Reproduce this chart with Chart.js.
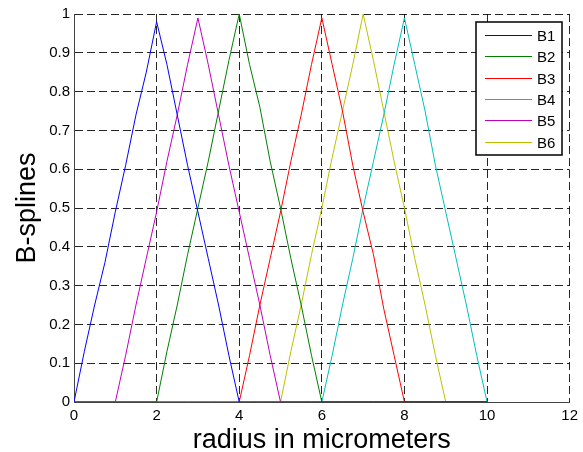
<!DOCTYPE html>
<html>
<head>
<meta charset="utf-8">
<script src="https://cdn.jsdelivr.net/npm/chart.js@4/dist/chart.umd.min.js"></script>
<style>
  html, body { margin: 0; padding: 0; background: #fff; }
  #wrap { width: 583px; height: 452px; position: relative; }
</style>
</head>
<body>
<div id="wrap"><canvas id="chart"></canvas></div>
<script>
// radius samples (micrometers)
const radius = [0, 0.25, 0.5, 0.75, 1, 1.25, 1.5, 1.75, 2, 2.25, 2.5, 2.75, 3, 3.25, 3.5, 3.75, 4,
  4.25, 4.5, 4.75, 5, 5.25, 5.5, 5.75, 6, 6.25, 6.5, 6.75, 7, 7.25, 7.5, 7.75, 8,
  8.25, 8.5, 8.75, 9, 9.25, 9.5, 9.75, 10];

const seriesNames = ['B1', 'B2', 'B3', 'B4', 'B5', 'B6'];
const seriesColors = ['#0000ff', '#008000', '#ff0000', '#00bfbf', '#bf00bf', '#bfbf00'];

const b1 = [0, 0.13, 0.25, 0.36, 0.49, 0.61, 0.74, 0.85, 0.98, 0.87, 0.74, 0.61, 0.49, 0.37, 0.25, 0.12, 0,
  0, 0, 0, 0, 0, 0, 0, 0, 0, 0, 0, 0, 0, 0, 0, 0, 0, 0, 0, 0, 0, 0, 0, 0];
const b2 = [0, 0, 0, 0, 0, 0, 0, 0, 0, 0.13, 0.25, 0.38, 0.50, 0.62, 0.75, 0.88, 1.0,
  0.87, 0.76, 0.62, 0.50, 0.37, 0.25, 0.12, 0, 0, 0, 0, 0, 0, 0, 0, 0, 0, 0, 0, 0, 0, 0, 0, 0];
const b3 = [0, 0, 0, 0, 0, 0, 0, 0, 0, 0, 0, 0, 0, 0, 0, 0, 0,
  0.12, 0.25, 0.37, 0.49, 0.62, 0.74, 0.87, 0.99, 0.87, 0.75, 0.61, 0.49, 0.38, 0.24, 0.12, 0,
  0, 0, 0, 0, 0, 0, 0, 0];
const b4 = [0, 0, 0, 0, 0, 0, 0, 0, 0, 0, 0, 0, 0, 0, 0, 0, 0, 0, 0, 0, 0, 0, 0, 0, 0,
  0.12, 0.25, 0.37, 0.50, 0.62, 0.74, 0.87, 0.99, 0.87, 0.75, 0.61, 0.49, 0.37, 0.25, 0.12, 0];
const b5 = [0, 0, 0, 0, 0, 0.12, 0.25, 0.37, 0.49, 0.62, 0.74, 0.87, 0.99, 0.87, 0.74, 0.61, 0.49,
  0.37, 0.25, 0.12, 0, 0, 0, 0, 0, 0, 0, 0, 0, 0, 0, 0, 0, 0, 0, 0, 0, 0, 0, 0, 0];
const b6 = [0, 0, 0, 0, 0, 0, 0, 0, 0, 0, 0, 0, 0, 0, 0, 0, 0, 0, 0, 0, 0,
  0.13, 0.25, 0.38, 0.50, 0.63, 0.75, 0.87, 1.0, 0.88, 0.75, 0.62, 0.50, 0.37, 0.25, 0.12, 0,
  0, 0, 0, 0];
const seriesValues = [b1, b2, b3, b4, b5, b6];

const xTicks = [0, 2, 4, 6, 8, 10, 12];

// boxed legend drawn inside the plot, top right
const boxLegend = {
  id: 'boxLegend',
  afterDraw(chart) {
    const ctx = chart.ctx;
    const x = 476, y = 22, w = 86, h = 133;
    ctx.save();
    ctx.fillStyle = '#fff';
    ctx.fillRect(x, y, w, h);
    ctx.strokeStyle = '#000';
    ctx.lineWidth = 1.5;
    ctx.strokeRect(x, y, w, h);
    ctx.font = '15px "Liberation Sans", Arial, sans-serif';
    ctx.textBaseline = 'middle';
    chart.data.datasets.forEach((ds, i) => {
      const ry = Math.round(y + 13 + i * 21.3) + 0.5;
      ctx.strokeStyle = ds.borderColor;
      ctx.lineWidth = 1;
      ctx.beginPath();
      ctx.moveTo(x + 9, ry);
      ctx.lineTo(x + 56, ry);
      ctx.stroke();
      ctx.fillStyle = '#000';
      ctx.fillText(ds.label, x + 61, ry + 1);
    });
    ctx.restore();
  }
};

const gridStyle = { color: 'rgba(0,0,0,0.85)', lineWidth: 1, drawTicks: false };
const tickFont = { family: '"Liberation Sans", Arial, sans-serif', size: 15 };
const titleFont = { family: '"Liberation Sans", Arial, sans-serif', size: 27 };

new Chart(document.getElementById('chart'), {
  type: 'line',
  data: {
    datasets: seriesNames.map((name, i) => ({
      label: name,
      data: radius.map((r, j) => ({ x: r, y: seriesValues[i][j] })),
      borderColor: seriesColors[i],
      backgroundColor: seriesColors[i],
      borderWidth: 1,
      pointRadius: 0,
      tension: 0,
      fill: false
    }))
  },
  options: {
    responsive: true,
    maintainAspectRatio: false,
    animation: false,
    layout: { padding: { top: 14, right: 10, left: 0, bottom: 0 } },
    plugins: { legend: { display: false }, tooltip: { enabled: false } },
    scales: {
      x: {
        type: 'linear',
        min: 0,
        max: 12,
        afterBuildTicks: scale => { scale.ticks = xTicks.map(v => ({ value: v })); },
        afterFit: scale => { scale.height = 50; },
        grid: gridStyle,
        border: { display: true, color: '#444', width: 1, dash: [8, 4] },
        ticks: { color: '#000', font: tickFont, padding: 5, maxRotation: 0 },
        title: { display: true, text: 'radius in micrometers', color: '#000', font: titleFont, padding: { top: 0, bottom: -5 } }
      },
      y: {
        min: 0,
        max: 1,
        afterFit: scale => { scale.width = 74; },
        grid: gridStyle,
        border: { display: true, color: '#444', width: 1, dash: [8, 4] },
        ticks: { stepSize: 0.1, color: '#000', font: tickFont, padding: 4, callback: v => String(+v.toFixed(1)) },
        title: { display: true, text: 'B-splines', color: '#000', font: titleFont, padding: { top: 11, bottom: 0 } }
      }
    }
  },
  plugins: [boxLegend]
});
</script>
</body>
</html>
